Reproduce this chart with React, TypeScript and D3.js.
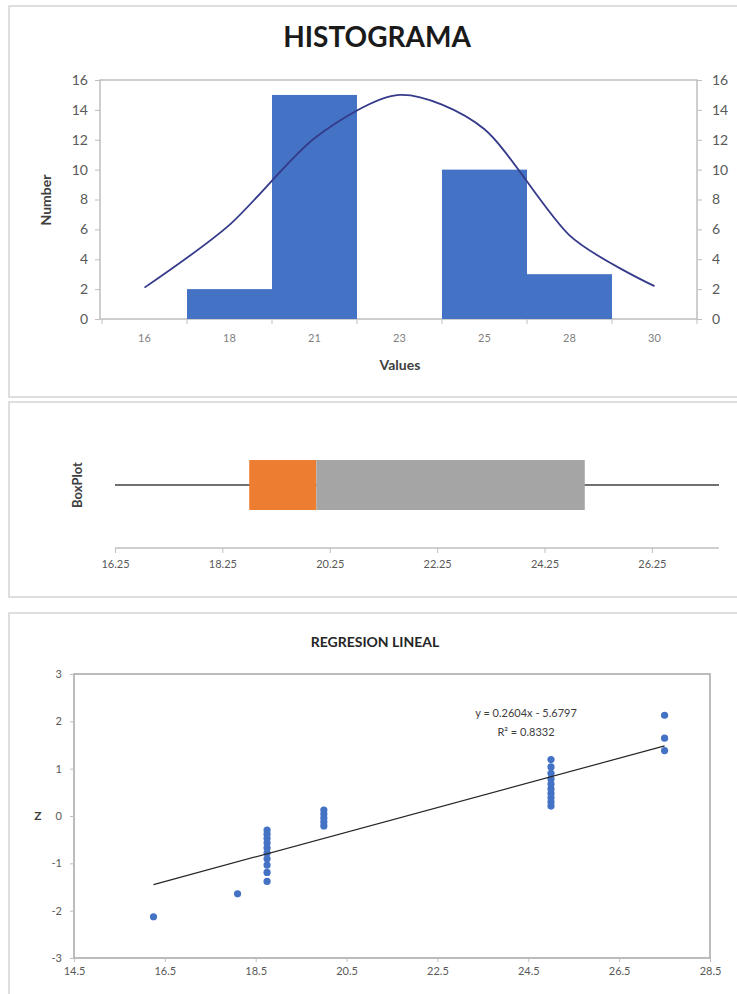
import React, { useEffect, useRef } from "react";
import * as d3 from "d3";

// histogram
const histCategories = ["16", "18", "21", "23", "25", "28", "30"];
const histCounts = [0, 2, 15, 0, 10, 3, 0];
const normalCurve = [2.1, 6.3, 12.1, 15.0, 12.7, 5.6, 2.2];
const countTicks = [0, 2, 4, 6, 8, 10, 12, 14, 16];

// boxplot: min, q1, median, q3, max
const boxStats = [16.25, 18.75, 20, 25, 27.5];
const boxTicks = [16.25, 18.25, 20.25, 22.25, 24.25, 26.25];

// regression (values vs normal scores)
const regX = [
  16.25, 18.1,
  18.75, 18.75, 18.75, 18.75, 18.75, 18.75, 18.75, 18.75, 18.75, 18.75,
  20, 20, 20, 20, 20,
  25, 25, 25, 25, 25, 25, 25, 25, 25, 25,
  27.5, 27.5, 27.5
];
const regZ = [
  -2.128, -1.645,
  -1.383, -1.192, -1.036, -0.903, -0.783, -0.674, -0.573, -0.477, -0.385, -0.297,
  -0.21, -0.126, -0.042, 0.042, 0.126,
  0.21, 0.297, 0.385, 0.477, 0.573, 0.674, 0.783, 0.903, 1.036, 1.192,
  1.383, 1.645, 2.128
];
const regXTicks = [14.5, 16.5, 18.5, 20.5, 22.5, 24.5, 26.5, 28.5];
const regZTicks = [-3, -2, -1, 0, 1, 2, 3];
const trendSlope = 0.2604;
const trendIntercept = -5.6797;
const trendR2 = 0.8332;

const FONT = "Lato, 'Open Sans', sans-serif";
const BLUE = "#4472C4";
const GRID = "#bfbfbf";
const TXT = "#595959";

function styleAxis(g, size) {
  g.select(".domain").remove();
  g.selectAll("line").attr("stroke", GRID);
  g.selectAll("text")
    .attr("fill", TXT)
    .style("font-family", FONT)
    .style("font-size", size + "px");
}

function App() {
  const svgRef = useRef(null);

  useEffect(() => {
    const svg = d3.select(svgRef.current);
    svg.selectAll("*").remove();

    // panel frames
    [[6, 391], [402, 195], [613, 400]].forEach(([top, h]) => {
      svg.append("rect")
        .attr("x", 9).attr("y", top).attr("width", 740).attr("height", h)
        .attr("fill", "none").attr("stroke", "#d4d4d4").attr("stroke-width", 1.5);
    });

    // ---------- HISTOGRAMA ----------
    const hx = d3.scaleBand().domain(histCategories).range([102, 697]).padding(0);
    const hy = d3.scaleLinear().domain([0, 16]).range([319, 80]);

    svg.append("text")
      .attr("x", 377).attr("y", 47).attr("text-anchor", "middle")
      .style("font-family", FONT).style("font-size", "28px").style("font-weight", "bold")
      .attr("fill", "#1a1a1a").text("HISTOGRAMA");

    svg.append("rect")
      .attr("x", 100).attr("y", hy(16)).attr("width", 597).attr("height", hy(0) - hy(16))
      .attr("fill", "none").attr("stroke", GRID).attr("stroke-width", 1.5);

    svg.append("g").attr("transform", "translate(100,0)")
      .call(d3.axisLeft(hy).tickValues(countTicks).tickSize(5).tickPadding(7))
      .call((g) => styleAxis(g, 14));
    svg.append("g").attr("transform", "translate(697,0)")
      .call(d3.axisRight(hy).tickValues(countTicks).tickSize(5).tickPadding(10))
      .call((g) => styleAxis(g, 14));

    const bounds = histCategories.map((c) => hx(c)).concat([hx.range()[1]]);
    svg.append("g").selectAll("line").data(bounds).join("line")
      .attr("x1", (d) => d).attr("x2", (d) => d)
      .attr("y1", hy(0)).attr("y2", hy(0) + 5).attr("stroke", GRID);
    svg.append("g").selectAll("text").data(histCategories).join("text")
      .attr("x", (d) => hx(d) + hx.bandwidth() / 2).attr("y", 342)
      .attr("text-anchor", "middle").attr("fill", "#7f7f7f")
      .style("font-family", FONT).style("font-size", "11px").text((d) => d);

    svg.append("g").selectAll("rect")
      .data(histCategories.map((c, i) => ({ c, v: histCounts[i] })).filter((d) => d.v > 0))
      .join("rect")
      .attr("x", (d) => hx(d.c)).attr("width", hx.bandwidth())
      .attr("y", (d) => hy(d.v)).attr("height", (d) => hy(0) - hy(d.v))
      .attr("fill", BLUE);

    const curve = d3.line()
      .x((d, i) => hx(histCategories[i]) + hx.bandwidth() / 2)
      .y((d) => hy(d))
      .curve(d3.curveCardinal.tension(0.2));
    svg.append("path").datum(normalCurve).attr("d", curve)
      .attr("fill", "none").attr("stroke", "#353a8a").attr("stroke-width", 1.8);

    svg.append("text")
      .attr("transform", "translate(51,200) rotate(-90)").attr("text-anchor", "middle")
      .style("font-family", FONT).style("font-size", "14px").style("font-weight", "bold")
      .attr("fill", "#404040").text("Number");
    svg.append("text")
      .attr("x", 400).attr("y", 370).attr("text-anchor", "middle")
      .style("font-family", FONT).style("font-size", "14px").style("font-weight", "bold")
      .attr("fill", "#404040").text("Values");

    // ---------- BOXPLOT ----------
    const bx = d3.scaleLinear().domain([boxStats[0], boxStats[4]]).range([115, 719]);
    const [bMin, q1, med, q3, bMax] = boxStats;

    svg.append("line")
      .attr("x1", bx(bMin)).attr("x2", bx(bMax)).attr("y1", 485).attr("y2", 485)
      .attr("stroke", "#404040").attr("stroke-width", 1.5);
    svg.append("rect")
      .attr("x", bx(q1)).attr("width", bx(med) - bx(q1)).attr("y", 460).attr("height", 50)
      .attr("fill", "#ED7D31");
    svg.append("rect")
      .attr("x", bx(med)).attr("width", bx(q3) - bx(med)).attr("y", 460).attr("height", 50)
      .attr("fill", "#A5A5A5");

    svg.append("line")
      .attr("x1", bx(bMin)).attr("x2", bx(bMax)).attr("y1", 548).attr("y2", 548)
      .attr("stroke", GRID).attr("stroke-width", 1.5);
    svg.append("g").attr("transform", "translate(0,548)")
      .call(d3.axisBottom(bx).tickValues(boxTicks).tickSize(5).tickPadding(7)
        .tickFormat(d3.format(".2f")))
      .call((g) => styleAxis(g, 11));

    svg.append("text")
      .attr("transform", "translate(82,485) rotate(-90)").attr("text-anchor", "middle")
      .style("font-family", FONT).style("font-size", "13px").style("font-weight", "bold")
      .attr("fill", "#404040").text("BoxPlot");

    // ---------- REGRESION LINEAL ----------
    const rx = d3.scaleLinear().domain([14.5, 28.5]).range([74, 710]);
    const ry = d3.scaleLinear().domain([-3, 3]).range([958, 674]);

    svg.append("text")
      .attr("x", 375).attr("y", 647).attr("text-anchor", "middle")
      .style("font-family", FONT).style("font-size", "14px").style("font-weight", "bold")
      .attr("fill", "#262626").text("REGRESION LINEAL");

    svg.append("rect")
      .attr("x", rx(14.5)).attr("y", ry(3)).attr("width", rx(28.5) - rx(14.5))
      .attr("height", ry(-3) - ry(3))
      .attr("fill", "none").attr("stroke", "#a6a6a6").attr("stroke-width", 1.5);

    svg.append("g").attr("transform", `translate(${rx(14.5)},0)`)
      .call(d3.axisLeft(ry).tickValues(regZTicks).tickSize(4).tickPadding(8)
        .tickFormat((d) => String(d)))
      .call((g) => styleAxis(g, 11));
    svg.append("g").attr("transform", `translate(0,${ry(-3)})`)
      .call(d3.axisBottom(rx).tickValues(regXTicks).tickSize(4).tickPadding(5)
        .tickFormat((d) => String(d)))
      .call((g) => styleAxis(g, 11));

    svg.append("text")
      .attr("x", 38).attr("y", ry(0) + 4).attr("text-anchor", "middle")
      .style("font-family", FONT).style("font-size", "12px").style("font-weight", "bold")
      .attr("fill", "#404040").text("Z");

    svg.append("g").selectAll("circle")
      .data(regX.map((x, i) => [x, regZ[i]]))
      .join("circle")
      .attr("cx", (d) => rx(d[0])).attr("cy", (d) => ry(d[1])).attr("r", 3.6)
      .attr("fill", BLUE);

    const [x0, x1] = d3.extent(regX);
    svg.append("line")
      .attr("x1", rx(x0)).attr("y1", ry(trendSlope * x0 + trendIntercept))
      .attr("x2", rx(x1)).attr("y2", ry(trendSlope * x1 + trendIntercept))
      .attr("stroke", "#262626").attr("stroke-width", 1.2);

    svg.append("text")
      .attr("x", 526).attr("y", 717).attr("text-anchor", "middle")
      .style("font-family", FONT).style("font-size", "11px").attr("fill", "#404040")
      .text(`y = ${trendSlope}x - ${Math.abs(trendIntercept)}`);
    svg.append("text")
      .attr("x", 526).attr("y", 736).attr("text-anchor", "middle")
      .style("font-family", FONT).style("font-size", "11px").attr("fill", "#404040")
      .text(`R² = ${trendR2}`);
  }, []);

  return (
    <svg
      ref={svgRef}
      width={737}
      height={994}
      style={{ position: "absolute", left: 0, top: 0, background: "#fff" }}
    />
  );
}

export default App;
